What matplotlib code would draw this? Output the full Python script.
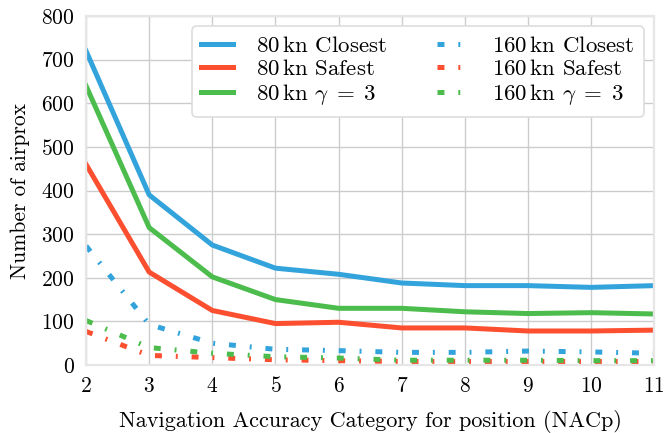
import matplotlib
matplotlib.use("Agg")
import matplotlib.pyplot as plt
import numpy as np

plt.rcParams['font.family'] = ['cmr10', 'DejaVu Serif']
plt.rcParams['mathtext.fontset'] = 'cm'
plt.rcParams['axes.unicode_minus'] = False
plt.rcParams['axes.formatter.use_mathtext'] = True
plt.rcParams['lines.scale_dashes'] = False

# NACp categories
nacp = [2, 3, 4, 5, 6, 7, 8, 9, 10, 11]

# 80 kn series
closest_80 = [720, 390, 275, 222, 208, 188, 182, 182, 178, 182]
safest_80 = [460, 213, 125, 95, 98, 85, 85, 78, 78, 80]
gamma_80 = [640, 315, 202, 150, 130, 130, 122, 118, 120, 117]

# 160 kn series
closest_160 = [273, 93, 50, 36, 33, 29, 29, 32, 30, 27]
safest_160 = [77, 22, 17, 12, 10, 8, 8, 8, 8, 8]
gamma_160 = [102, 40, 27, 19, 16, 11, 11, 11, 10, 10]

blue = '#33a3dc'
red = '#fc4f30'
green = '#4cbc4c'
dash = (0, (5, 10, 1.4, 10))
fs = 15.5

fig = plt.figure(figsize=(6.67, 4.33), dpi=100)
ax = fig.add_axes([0.129, 0.157, 0.852, 0.806])

ax.plot(nacp, closest_80, color=blue, lw=3.6, label=r'80$\,$kn Closest')
ax.plot(nacp, safest_80, color=red, lw=3.6, label=r'80$\,$kn Safest')
ax.plot(nacp, gamma_80, color=green, lw=3.6, label=r'80$\,$kn $\gamma\;=\;3$')
ax.plot(nacp, closest_160, color=blue, lw=3.6, ls=dash, label=r'160$\,$kn Closest')
ax.plot(nacp, safest_160, color=red, lw=3.6, ls=dash, label=r'160$\,$kn Safest')
ax.plot(nacp, gamma_160, color=green, lw=3.6, ls=dash, label=r'160$\,$kn $\gamma\;=\;3$')

ax.set_xlim(2, 11)
ax.set_ylim(0, 800)
ax.set_xticks(nacp)
ax.set_yticks(np.arange(0, 801, 100))
ax.grid(True, color='#cccccc', lw=1.0)
ax.set_axisbelow(True)
for s in ax.spines.values():
    s.set_color('#e6e6e6')
    s.set_linewidth(1.6)
ax.tick_params(length=0, labelsize=fs, pad=8)

ax.set_xlabel('Navigation Accuracy Category for position (NACp)', fontsize=16, labelpad=10)
ax.set_ylabel('Number of airprox', fontsize=fs, labelpad=8)

leg = ax.legend(ncol=2, loc='upper right', fontsize=16.5, frameon=True,
                handlelength=1.4, handletextpad=1.0, columnspacing=2.2,
                borderpad=0.4, labelspacing=0.15, fancybox=True,
                borderaxespad=0.45)
leg.get_frame().set_edgecolor('#dddddd')
leg.get_frame().set_linewidth(1.2)
leg.get_frame().set_alpha(1.0)

fig.savefig('out.png', dpi=100)
